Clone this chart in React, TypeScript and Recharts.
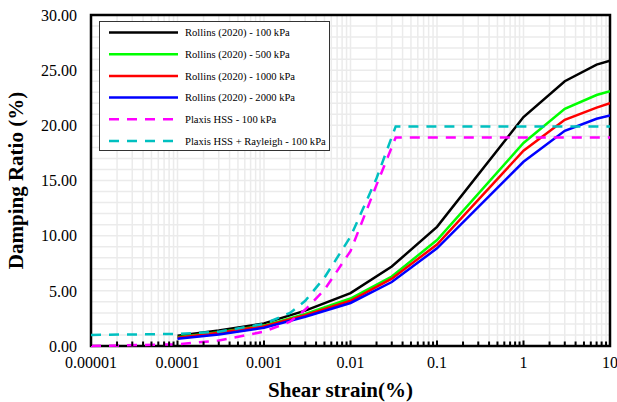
import React from 'react';
import { LineChart, Line, XAxis, YAxis, CartesianGrid, ReferenceArea, Legend, Label } from 'recharts';

const rollinsStrain = [0.0001, 0.0003, 0.001, 0.003, 0.01, 0.03, 0.1, 1, 3, 7, 10];
const rollins100 = [0.93, 1.4, 2.05, 3.2, 4.8, 7.2, 10.8, 20.75, 24.0, 25.5, 25.85];
const rollins500 = [0.8, 1.25, 1.85, 2.9, 4.3, 6.3, 9.6, 18.4, 21.5, 22.75, 23.1];
const rollins1000 = [0.75, 1.2, 1.8, 2.8, 4.1, 6.1, 9.2, 17.7, 20.5, 21.6, 22.0];
const rollins2000 = [0.65, 1.05, 1.65, 2.65, 3.9, 5.8, 8.85, 16.7, 19.5, 20.6, 20.9];

const plaxisStrain = [0.00001, 0.0001, 0.0003, 0.001, 0.002, 0.003, 0.005, 0.01, 0.02, 0.0333, 10];
const plaxisHss = [0, 0.15, 0.5, 1.3, 2.2, 3.3, 5.1, 8.6, 14.6, 18.9, 18.9];
const plaxisRayleigh = [1.0, 1.1, 1.3, 2.0, 3.0, 4.1, 6.2, 9.9, 15.2, 19.9, 19.9];

const xMajorTicks = [0.00001, 0.0001, 0.001, 0.01, 0.1, 1, 10];
const xTickLabels = ['0.00001', '0.0001', '0.001', '0.01', '0.1', '1', '10'];
const yTicks = [0, 5, 10, 15, 20, 25, 30];

const seriesNames = [
  'Rollins (2020) - 100 kPa',
  'Rollins (2020) - 500 kPa',
  'Rollins (2020) - 1000 kPa',
  'Rollins (2020) - 2000 kPa',
  'Plaxis HSS - 100 kPa',
  'Plaxis HSS + Rayleigh - 100 kPa',
];

const FONT = "'Liberation Serif', 'Times New Roman', serif";

const toPoints = (xs: number[], ys: number[]) => xs.map((x, i) => ({ x, y: ys[i] }));

const series = [
  { name: seriesNames[0], data: toPoints(rollinsStrain, rollins100), color: '#000000', dash: undefined as string | undefined },
  { name: seriesNames[1], data: toPoints(rollinsStrain, rollins500), color: '#00ff00', dash: undefined },
  { name: seriesNames[2], data: toPoints(rollinsStrain, rollins1000), color: '#ff0000', dash: undefined },
  { name: seriesNames[3], data: toPoints(rollinsStrain, rollins2000), color: '#0000ff', dash: undefined },
  { name: seriesNames[4], data: toPoints(plaxisStrain, plaxisHss), color: '#ff00ff', dash: '10 8' },
  { name: seriesNames[5], data: toPoints(plaxisStrain, plaxisRayleigh), color: '#00c0c0', dash: '10 8' },
];

const xMinorTicks: number[] = [];
xMajorTicks.slice(0, -1).forEach((d) => {
  for (let k = 2; k <= 9; k++) xMinorTicks.push(d * k);
});
const allXTicks = [...xMajorTicks, ...xMinorTicks].sort((a, b) => a - b);
const gridY: number[] = [];
for (let v = 0; v <= 30; v++) gridY.push(v);

const majorIndex = (v: number) => xMajorTicks.findIndex((t) => Math.abs(Math.log10(t) - Math.log10(v)) < 1e-6);

const X_TICK_SIZE = 6;
const X_TICK_MARGIN = 5;

const XTick = (props: any) => {
  const { x, y, payload } = props;
  const idx = majorIndex(payload.value);
  const axisY = y - X_TICK_SIZE - X_TICK_MARGIN;
  return (
    <g>
      <line x1={x} x2={x} y1={axisY} y2={axisY - (idx >= 0 ? 5.5 : 4.5)} stroke="#000" strokeWidth={2} />
      {idx >= 0 && (
        <text x={x} y={y} dy="0.71em" textAnchor="middle" fontSize={16} fontFamily={FONT} fill="#000">
          {xTickLabels[idx]}
        </text>
      )}
    </g>
  );
};

const YTick = (props: any) => {
  const { x, y, payload } = props;
  return (
    <text x={x} y={y} dy="0.355em" textAnchor="end" fontSize={16} fontFamily={FONT} fill="#000">
      {Number(payload.value).toFixed(2)}
    </text>
  );
};

const renderLegend = () => (
  <div style={{ width: 231, height: 130, background: '#fff', border: '1px solid #333', boxSizing: 'border-box' }}>
    <svg width={229} height={128} style={{ display: 'block' }}>
      {series.map((s, i) => {
        const cy = 10.5 + i * 21.7;
        return (
          <g key={s.name}>
            <line x1={9} x2={78} y1={cy} y2={cy} stroke={s.color} strokeWidth={2.5} strokeDasharray={s.dash} />
            <text x={85} y={cy + 3.8} fontSize={10.6} fontFamily={FONT} fill="#000">{s.name}</text>
          </g>
        );
      })}
    </svg>
  </div>
);

export default function App() {
  return (
    <div style={{ position: 'absolute', left: 0, top: 0, fontFamily: FONT }}>
      <LineChart width={617} height={402} margin={{ top: 15, right: 7, left: 0, bottom: 0 }}>
        <CartesianGrid stroke="#ebebeb" strokeWidth={1.5} horizontalValues={gridY} verticalValues={allXTicks} />
        <XAxis
          dataKey="x"
          type="number"
          scale="log"
          domain={[0.00001, 10]}
          ticks={allXTicks}
          allowDataOverflow
          height={56}
          axisLine={false}
          tickLine={false}
          tickSize={X_TICK_SIZE}
          tickMargin={X_TICK_MARGIN}
          tick={XTick}
          interval={0}
        >
          <Label
            content={(props: any) => {
              const vb = props.viewBox || { x: 91, y: 346, width: 519, height: 56 };
              return (
                <text x={vb.x + vb.width / 2 - 10} y={397} textAnchor="middle" fontSize={21} fontWeight="bold" fontFamily={FONT} fill="#000">
                  Shear strain(%)
                </text>
              );
            }}
          />
        </XAxis>
        <YAxis
          type="number"
          domain={[0, 30]}
          ticks={yTicks}
          width={91}
          axisLine={false}
          tickLine={false}
          tickSize={6}
          tickMargin={8}
          tick={YTick}
          interval={0}
        >
          <Label
            content={() => (
              <text x={23} y={180.5} transform="rotate(-90 23 180.5)" textAnchor="middle" fontSize={21} fontWeight="bold" fontFamily={FONT} fill="#000">
                Damping Ratio (%)
              </text>
            )}
          />
        </YAxis>
        {series.map((s) => (
          <Line
            key={s.name}
            data={s.data}
            dataKey="y"
            name={s.name}
            type="linear"
            stroke={s.color}
            strokeWidth={2.5}
            strokeDasharray={s.dash}
            dot={false}
            activeDot={false}
            isAnimationActive={false}
          />
        ))}
        <ReferenceArea x1={0.00001} x2={10} y1={0} y2={30} fill="none" fillOpacity={0} stroke="#000" strokeWidth={2.5} />
        <Legend
          layout="vertical"
          align="center"
          verticalAlign="middle"
          wrapperStyle={{ left: 99, top: 21, width: 231, height: 130 }}
          content={renderLegend}
        />
      </LineChart>
    </div>
  );
}
